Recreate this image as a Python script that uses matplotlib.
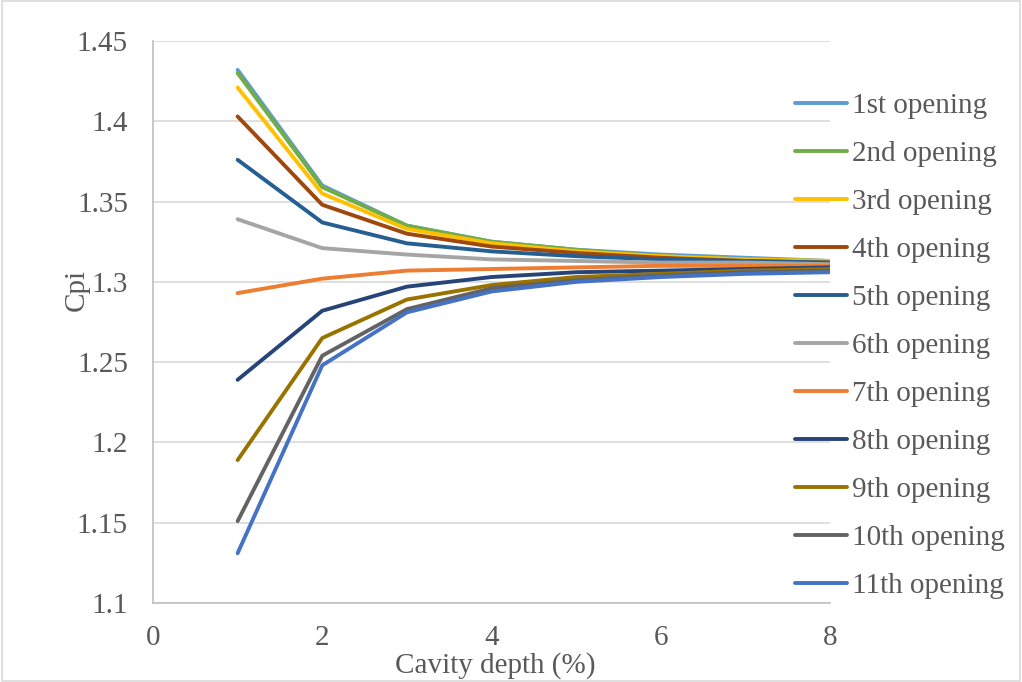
import matplotlib.pyplot as plt

plt.rcParams['font.family'] = ['Liberation Serif', 'DejaVu Serif']

depth = [1, 2, 3, 4, 5, 6, 7, 8]

labels = ['1st opening', '2nd opening', '3rd opening', '4th opening', '5th opening',
          '6th opening', '7th opening', '8th opening', '9th opening', '10th opening',
          '11th opening']

op1 = [1.432, 1.360, 1.335, 1.325, 1.320, 1.317, 1.315, 1.313]
op2 = [1.430, 1.359, 1.335, 1.325, 1.320, 1.316, 1.314, 1.313]
op3 = [1.421, 1.355, 1.333, 1.324, 1.319, 1.316, 1.314, 1.313]
op4 = [1.403, 1.348, 1.330, 1.322, 1.318, 1.315, 1.313, 1.312]
op5 = [1.376, 1.337, 1.324, 1.319, 1.316, 1.314, 1.313, 1.312]
op6 = [1.339, 1.321, 1.317, 1.314, 1.313, 1.312, 1.312, 1.311]
op7 = [1.293, 1.302, 1.307, 1.308, 1.309, 1.310, 1.310, 1.310]
op8 = [1.239, 1.282, 1.297, 1.303, 1.306, 1.307, 1.308, 1.309]
op9 = [1.189, 1.265, 1.289, 1.298, 1.303, 1.305, 1.307, 1.308]
op10 = [1.151, 1.254, 1.283, 1.296, 1.301, 1.304, 1.306, 1.307]
op11 = [1.131, 1.248, 1.281, 1.294, 1.300, 1.303, 1.305, 1.306]

series = [op1, op2, op3, op4, op5, op6, op7, op8, op9, op10, op11]
colors = ['#5B9BD5', '#70AD47', '#FFC000', '#9E480E', '#255E91', '#A5A5A5',
          '#ED7D31', '#264478', '#997300', '#636363', '#4472C4']

fig = plt.figure(figsize=(10.22, 6.82), dpi=100)
ax = fig.add_axes([153/1022, 1 - 603/682, (830-153)/1022, (603-41)/682])

for vals, lab, c in zip(series, labels, colors):
    ax.plot(depth, vals, color=c, linewidth=2.8, label=lab, solid_capstyle='round')

ax.set_xlim(0, 8)
ax.set_ylim(1.1, 1.45)
ax.set_xticks([0, 2, 4, 6, 8])
ax.set_yticks([1.1, 1.15, 1.2, 1.25, 1.3, 1.35, 1.4, 1.45])
ax.set_yticklabels(['1.1', '1.15', '1.2', '1.25', '1.3', '1.35', '1.4', '1.45'])
ax.tick_params(length=0, labelsize=21, labelcolor='#595959')
ax.tick_params(axis='y', pad=18)
ax.tick_params(axis='x', pad=16)
ax.grid(axis='y', color='#D9D9D9', linewidth=1.2)
ax.set_axisbelow(True)
ax.spines['top'].set_color('none')
ax.spines['right'].set_color('none')
ax.spines['left'].set_color('#BFBFBF')
ax.spines['bottom'].set_color('#BFBFBF')
ax.spines['left'].set_linewidth(1.2)
ax.spines['bottom'].set_linewidth(1.2)

ax.set_xlabel('Cavity depth (%)', fontsize=21, color='#595959')
ax.set_ylabel('Cpi', fontsize=21, color='#595959')
ax.xaxis.set_label_coords((495-153)/677, -(652-603)/562)
ax.yaxis.set_label_coords(-(153-90)/677, (603-290)/562)

leg = fig.legend(loc='upper left', bbox_to_anchor=(783/1022, 1 - 81/682),
                 frameon=False, fontsize=21, handlelength=1.81, handletextpad=0.17,
                 labelspacing=0.74, borderaxespad=0)
for t in leg.get_texts():
    t.set_color('#595959')

fig.patches.append(plt.Rectangle((0.002, 0.002), 0.996, 0.996, transform=fig.transFigure,
                                 fill=False, edgecolor='#D9D9D9', linewidth=1.2))

fig.savefig('out.png', dpi=100)
